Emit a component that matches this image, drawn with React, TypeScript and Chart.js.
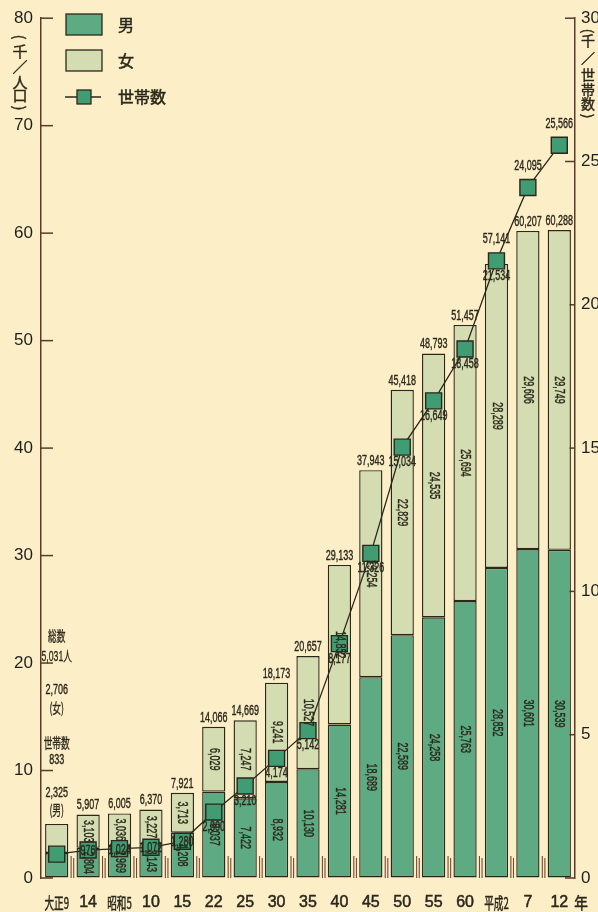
import React, { useEffect, useRef } from 'react';
import { Chart, registerables } from 'chart.js';

Chart.register(...registerables);

// ---- data ----
const categories = ['大正9', '14', '昭和5', '10', '15', '22', '25', '30', '35', '40', '45', '50', '55', '60', '平成2', '7', '12'];
const male = [2325, 2804, 2969, 3143, 4208, 8037, 7422, 8932, 10130, 14281, 18689, 22589, 24258, 25763, 28852, 30601, 30539];
const female = [2706, 3103, 3036, 3227, 3713, 6029, 7247, 9241, 10527, 14852, 19254, 22829, 24535, 25694, 28289, 29606, 29749];
const totals = [5031, 5907, 6005, 6370, 7921, 14066, 14669, 18173, 20657, 29133, 37943, 45418, 48793, 51457, 57141, 60207, 60288];
const households = [833, 976, 1024, 1072, 1280, 2300, 3210, 4174, 5142, 8177, 11326, 15034, 16649, 18458, 21534, 24095, 25566];
const leftTicks = [0, 10, 20, 30, 40, 50, 60, 70, 80];
const rightTicks = [0, 5, 10, 15, 20, 25, 30];
const leftUnit = ['(', '千', '／', '人', '口', ')'];
const rightUnit = ['(', '千', '／', '世', '帯', '数', ')'];
const firstNote = ['総数', '5,031人', '2,706', '(女)', '世帯数', '833', '2,325', '(男)'];
const legendLabels = ['男', '女', '世帯数'];

// ---- styles ----
const BG = '#fcefc8';
const MALE = '#5eab83';
const FEMALE = '#d4ddb1';
const MARK = '#3f9c73';
const DARK = '#2b271b';
const AXIS = '#5a3a2b';
const TICK = '#7a4535';
const SANS = '"Liberation Sans", Arial, "Noto Sans CJK JP", sans-serif';
const CJK = '"Noto Sans CJK JP", "Liberation Sans", sans-serif';

const fmt = (v: number) => v.toLocaleString('en-US');

function drawText(ctx: any, text: string, x: number, y: number, size: number, sx: number, align: any, rotate = false, family = SANS, bolden = 0) {
  ctx.save();
  ctx.font = `${size}px ${family}`;
  ctx.fillStyle = DARK;
  ctx.strokeStyle = DARK;
  ctx.translate(x, y);
  if (rotate) ctx.rotate(Math.PI / 2);
  ctx.scale(sx, 1);
  ctx.textAlign = align;
  ctx.textBaseline = 'middle';
  ctx.fillText(text, 0, 0);
  if (bolden > 0) {
    ctx.lineWidth = bolden;
    ctx.strokeText(text, 0, 0);
  }
  ctx.restore();
}

// condensed numeric label: scale chosen so a digit is ~5px wide
function numText(ctx: any, text: string, x: number, y: number, rotate = false) {
  ctx.save();
  ctx.font = `14px ${SANS}`;
  const w0 = ctx.measureText('0').width || 7.8;
  ctx.restore();
  drawText(ctx, text, x, y, 14, 5.0 / w0, 'center', rotate, SANS, 0.4);
}

function line(ctx: any, x1: number, y1: number, x2: number, y2: number) {
  ctx.beginPath();
  ctx.moveTo(x1, y1);
  ctx.lineTo(x2, y2);
  ctx.stroke();
}

const decor = {
  id: 'decor',
  beforeDraw(chart: any) {
    const { ctx, width, height } = chart;
    ctx.save();
    ctx.fillStyle = BG;
    ctx.fillRect(0, 0, width, height);
    ctx.restore();
  },
  beforeDatasetsDraw(chart: any) {
    const { ctx, chartArea: a, scales } = chart;
    const xs = scales.x, ys = scales.y, y2s = scales.y2;
    ctx.save();
    ctx.strokeStyle = TICK;
    ctx.lineWidth = 1.1;
    for (let i = 1; i < categories.length; i++) {
      const bx = (xs.getPixelForValue(i - 1) + xs.getPixelForValue(i)) / 2;
      line(ctx, bx - 1.3, a.bottom, bx - 1.3, a.bottom - 22);
      line(ctx, bx + 1.3, a.bottom, bx + 1.3, a.bottom - 20);
    }
    ctx.strokeStyle = AXIS;
    ctx.lineWidth = 1.5;
    leftTicks.forEach((v) => {
      const py = ys.getPixelForValue(v);
      line(ctx, a.left, py, a.left + 12, py);
    });
    rightTicks.forEach((v) => {
      const py = y2s.getPixelForValue(v);
      line(ctx, a.right - 10, py, a.right, py);
    });
    ctx.restore();
  },
  afterDatasetsDraw(chart: any) {
    const { ctx, chartArea: a, scales } = chart;
    const xs = scales.x;
    const mMeta = chart.getDatasetMeta(0);
    const fMeta = chart.getDatasetMeta(1);
    const hMeta = chart.getDatasetMeta(2);

    for (let i = 0; i < categories.length; i++) {
      const mb = mMeta.data[i];
      const fb = fMeta.data[i];
      const hp = hMeta.data[i];
      const cx = mb.x;
      if (i > 0) {
        // total label
        let ty = fb.y - 9;
        if (hp.y - 8 < fb.y + 4 && hp.y + 8 > fb.y - 16) ty = hp.y - 22;
        numText(ctx, fmt(totals[i]), cx, ty);
        // segment labels (vertical)
        numText(ctx, fmt(female[i]), cx, (fb.y + fb.base) / 2, true);
        numText(ctx, fmt(male[i]), cx, (mb.y + mb.base) / 2, true);
        // household labels
        let hy = hp.y + 15;
        if (i <= 4) hy = hp.y + 1;
        else if (i >= 15) hy = hp.y - 21;
        numText(ctx, fmt(households[i]), hp.x, hy);
      }
    }

    // annotation above first bar
    const c0 = mMeta.data[0].x;
    const noteY = [636, 657, 690, 708, 743, 760, 793, 810];
    firstNote.forEach((t, k) => {
      const isNum = /^[0-9,]+$/.test(t);
      if (isNum) {
        numText(ctx, t, c0, noteY[k]);
      } else {
        drawText(ctx, t, c0, noteY[k], 14, 0.62, 'center', false, /[0-9]/.test(t) ? SANS : CJK, 0.3);
      }
    });

    // x labels
    categories.forEach((c, i) => {
      const px = xs.getPixelForValue(i);
      const ly = a.bottom + 25;
      if (/[^0-9]/.test(c)) {
        drawText(ctx, c, px, ly, 16, 0.6, 'center', false, CJK, 0.5);
      } else {
        drawText(ctx, c, px, ly, 16, 1, 'center', false, SANS, 0.5);
      }
      if (i === categories.length - 1) {
        drawText(ctx, '年', px + 15, ly, 16, 0.85, 'left', false, CJK, 0.5);
      }
    });

    // unit labels
    const drawUnit = (chars: string[], x: number, ys: number[], size: number) => {
      chars.forEach((ch, k) => {
        const rot = ch === '(' || ch === ')';
        drawText(ctx, ch, x, ys[k], size, 1, 'center', rot, CJK, 0.4);
      });
    };
    drawUnit(leftUnit, 20, [37, 51, 67, 82, 95, 108], 15);
    drawUnit(rightUnit, 588, [31, 41, 58, 75, 90, 104, 116], 14);

    // legend
    ctx.save();
    ctx.lineWidth = 1.3;
    ctx.strokeStyle = DARK;
    ctx.fillStyle = MALE;
    ctx.fillRect(66, 14, 36, 21);
    ctx.strokeRect(66, 14, 36, 21);
    ctx.fillStyle = FEMALE;
    ctx.fillRect(66, 50, 36, 21);
    ctx.strokeRect(66, 50, 36, 21);
    line(ctx, 65, 97, 101, 97);
    ctx.fillStyle = MARK;
    ctx.fillRect(77, 90, 14, 14);
    ctx.strokeRect(77, 90, 14, 14);
    ctx.restore();
    drawText(ctx, legendLabels[0], 118, 25, 16, 1, 'left', false, CJK, 0.5);
    drawText(ctx, legendLabels[1], 118, 61, 16, 1, 'left', false, CJK, 0.5);
    drawText(ctx, legendLabels[2], 118, 97, 16, 1, 'left', false, CJK, 0.5);
  },
};

export default function App() {
  const ref = useRef<HTMLCanvasElement | null>(null);
  useEffect(() => {
    document.body.style.margin = '0';
    document.body.style.background = BG;
    const canvas = ref.current;
    if (!canvas) return;
    const tickFont = { family: SANS, size: 17 };
    const chart = new Chart(canvas, {
      type: 'bar',
      data: {
        labels: categories,
        datasets: [
          {
            type: 'bar',
            label: '男',
            data: male.map((v) => v / 1000),
            backgroundColor: MALE,
            borderColor: DARK,
            borderWidth: 1.4,
            borderSkipped: false,
            stack: 's',
            yAxisID: 'y',
            order: 1,
            barPercentage: 0.74,
            categoryPercentage: 1,
          },
          {
            type: 'bar',
            label: '女',
            data: female.map((v) => v / 1000),
            backgroundColor: FEMALE,
            borderColor: DARK,
            borderWidth: 1.4,
            borderSkipped: false,
            stack: 's',
            yAxisID: 'y',
            order: 1,
            barPercentage: 0.74,
            categoryPercentage: 1,
          },
          {
            type: 'line',
            label: '世帯数',
            data: households.map((v) => v / 1000),
            borderColor: DARK,
            borderWidth: 1.3,
            pointStyle: 'rect',
            pointRadius: 11.3,
            pointBackgroundColor: MARK,
            pointBorderColor: DARK,
            pointBorderWidth: 1.4,
            yAxisID: 'y2',
            order: 0,
          },
        ],
      } as any,
      options: {
        responsive: false,
        animation: false,
        layout: { padding: { top: 12, left: 0, right: 0, bottom: 0 } },
        plugins: { legend: { display: false }, tooltip: { enabled: false } },
        scales: {
          x: {
            stacked: true,
            grid: { display: false },
            border: { display: false },
            ticks: { display: false },
            afterFit: (s: any) => { s.height = 34; },
          },
          y: {
            stacked: true,
            position: 'left',
            min: 0,
            max: 80,
            ticks: { stepSize: 10, padding: 8, font: tickFont, color: '#1e1e1e' },
            grid: { drawOnChartArea: false, drawTicks: false },
            border: { display: true, color: AXIS, width: 1.5 },
            afterFit: (s: any) => { s.width = 41; },
          },
          y2: {
            position: 'right',
            min: 0,
            max: 30,
            ticks: { stepSize: 5, padding: 6, font: tickFont, color: '#1e1e1e' },
            grid: { drawOnChartArea: false, drawTicks: false },
            border: { display: true, color: AXIS, width: 1.5 },
            afterFit: (s: any) => { s.width = 23; },
          },
        },
      } as any,
      plugins: [decor],
    });
    return () => chart.destroy();
  }, []);
  return (
    <div style={{ width: 598, height: 912, background: BG }}>
      <canvas ref={ref} width={598} height={912} style={{ display: 'block' }} />
    </div>
  );
}
